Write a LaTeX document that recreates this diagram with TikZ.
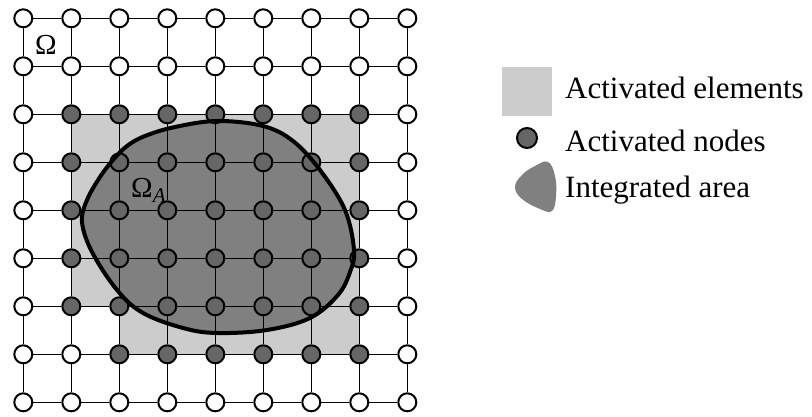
\documentclass[tikz,border=0pt]{standalone}
\usepackage{fontspec}
\setmainfont{Liberation Serif}
\usetikzlibrary{positioning}
\definecolor{colelement}{RGB}{204,204,204}
\definecolor{colnode}{RGB}{102,102,102}
\definecolor{colarea}{RGB}{128,128,128}
\tikzset{
	gridedge/.style={line width=1.2pt},
	gridnode/.style={circle, draw, line width=2pt, fill=white, minimum size=18pt, inner sep=0pt},
	activenode/.style={gridnode, fill=colnode},
	areaborder/.style={line width=4pt, line join=round},
	bigtext/.style={inner sep=0pt, font=\fontsize{31}{36}\selectfont},
	legendtext/.style={bigtext, anchor=base west}
}
\begin{document}
\begin{tikzpicture}[x=1pt, y=-1pt]
	\useasboundingbox (0,0) rectangle (812,417);
	% grid of elements and nodes
	\begin{scope}[shift={(23.3,18.3)}, x=48pt, y=-48pt]
		\fill[colelement] (1,2) rectangle (7,6);
		\fill[colelement] (2,6) rectangle (7,7);
	\end{scope}
	\fill[colarea] plot[smooth cycle, tension=0.6] coordinates {
		(217,121) (263,126) (293,141) (320,170) (345,210) (354,250) (350,272)
		(338,295) (310,318) (267,330) (217,333) (183,328) (143,313) (117,290)
		(92,252) (82,222) (87,200) (100,177) (113,160) (127,146) (145,136) (175,127)};
	\begin{scope}[shift={(23.3,18.3)}, x=48pt, y=-48pt]
		\foreach \i in {0,...,8} {
			\foreach \j in {0,...,8} {
				\pgfmathtruncatemacro\act{(\j>=2)*(\j<=6)*(\i>=1)*(\i<=7)+(\j==7)*(\i>=2)*(\i<=7)}
				\ifnum\act>0 \def\nstyle{activenode}\else\def\nstyle{gridnode}\fi
				\node[\nstyle] (n-\i-\j) at (\i,\j) {};
			}
		}
		\foreach \i [evaluate=\i as \ii using int(\i+1)] in {0,...,7} {
			\foreach \j in {0,...,8} {
				\draw[gridedge] (n-\i-\j) -- (n-\ii-\j);
				\draw[gridedge] (n-\j-\i) -- (n-\j-\ii);
			}
		}
	\end{scope}
	\draw[areaborder] plot[smooth cycle, tension=0.6] coordinates {
		(217,121) (263,126) (293,141) (320,170) (345,210) (354,250) (350,272)
		(338,295) (310,318) (267,330) (217,333) (183,328) (143,313) (117,290)
		(92,252) (82,222) (87,200) (100,177) (113,160) (127,146) (145,136) (175,127)};
	% domain labels
	\node[bigtext, anchor=base west, font=\fontsize{29}{34}\selectfont] (omega) at (35,55) {Ω};
	\node[bigtext, anchor=base west, font=\fontsize{29}{34}\selectfont] (omegaA) at (131,198)
		{Ω\raisebox{-5pt}{\fontsize{21}{24}\selectfont\itshape A}};
	% legend
	\fill[colelement] (502,67) rectangle (552,116);
	\node[legendtext] (elemtext) at (565,99) {Activated elements};
	\node[activenode, minimum size=20pt] (legnode) at (527,138) {};
	\node[legendtext] (nodetext) at (565,152) {Activated nodes};
	\fill[colarea] plot[smooth cycle, tension=0.7] coordinates {
		(548,162) (555,176) (556,196) (552,211) (540,209) (522,199) (515,187) (522,175) (535,166)};
	\node[legendtext] (areatext) at (565,198) {Integrated area};
\end{tikzpicture}
\end{document}
